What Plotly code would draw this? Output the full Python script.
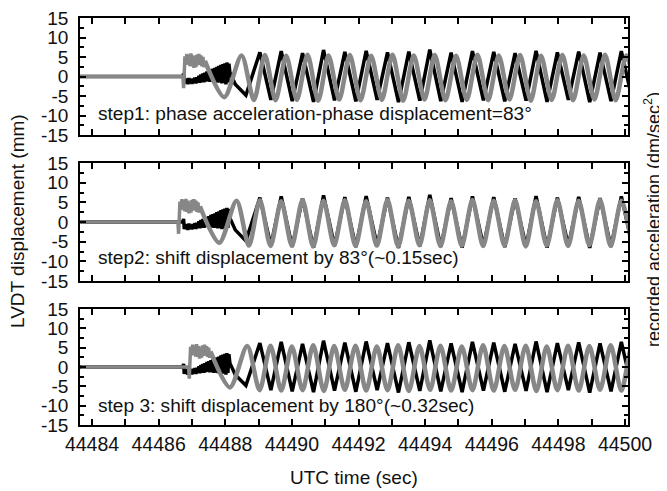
import plotly.graph_objects as go

# ---------------- data ----------------
# recorded acceleration (gray), time base of step 1
acc_t = [44483.50, 44486.73, 44486.75, 44486.77,
         44486.79, 44486.82, 44486.85, 44486.88, 44486.91, 44486.94, 44486.97, 44487.00,
         44487.03, 44487.06, 44487.09, 44487.12, 44487.15, 44487.18, 44487.21, 44487.24,
         44487.27, 44487.30, 44487.33, 44487.36, 44487.39,
         44487.97, 44488.49, 44488.86, 44489.19, 44489.51, 44489.83, 44490.15, 44490.47,
         44490.79, 44491.10, 44491.42, 44491.74, 44492.06, 44492.38, 44492.70, 44493.02,
         44493.34, 44493.66, 44493.98, 44494.29, 44494.61, 44494.93, 44495.25, 44495.57,
         44495.89, 44496.21, 44496.53, 44496.85, 44497.17, 44497.48, 44497.80, 44498.12,
         44498.44, 44498.76, 44499.08, 44499.40, 44499.72, 44500.04, 44500.36]
acc_v = [0.0, 0.0, -3.0, 4.0,
         5.2, 3.0, 5.8, 3.2, 5.5, 2.7, 5.9, 2.6,
         5.4, 2.2, 5.0, 2.4, 5.6, 2.9, 5.8, 3.0,
         5.4, 2.6, 5.0, 2.4, 4.0,
         -5.3, 5.4, -6.0, 5.5, -6.1, 5.3, -6.0, 5.6,
         -6.2, 5.4, -5.9, 5.5, -6.1, 5.3, -6.0, 5.6,
         -6.2, 5.4, -5.9, 5.5, -6.1, 5.3, -6.0, 5.6,
         -6.1, 5.4, -5.9, 5.5, -6.2, 5.3, -6.0, 5.5,
         -6.1, 5.4, -5.9, 5.6, -6.1, 5.4, -6.0]
acc_onset_end = 24   # index where the noisy onset ends and the steady oscillation begins

# LVDT displacement (black)
disp_t = [44483.50, 44486.73, 44486.75, 44486.77,
          44486.79, 44486.82, 44486.85, 44486.88, 44486.91, 44486.94, 44486.97, 44487.00,
          44487.03, 44487.06, 44487.09, 44487.12, 44487.15, 44487.18, 44487.21, 44487.24,
          44487.27, 44487.30, 44487.33, 44487.36,
          44487.39, 44487.42, 44487.45, 44487.48, 44487.51, 44487.54, 44487.57, 44487.60,
          44487.63, 44487.66, 44487.69, 44487.72, 44487.75, 44487.78, 44487.81, 44487.84,
          44487.87, 44487.90, 44487.93, 44487.96, 44487.99, 44488.02, 44488.05, 44488.08,
          44488.11, 44488.14, 44488.30, 44488.62,
          44489.04, 44489.37, 44489.68, 44490.01, 44490.32, 44490.65, 44490.95, 44491.28,
          44491.59, 44491.92, 44492.23, 44492.56, 44492.87, 44493.20, 44493.51, 44493.84,
          44494.14, 44494.47, 44494.78, 44495.11, 44495.42, 44495.75, 44496.06, 44496.39,
          44496.70, 44497.03, 44497.33, 44497.66, 44497.97, 44498.30, 44498.61, 44498.94,
          44499.25, 44499.58, 44499.89, 44500.22]
disp_v = [0.0, 0.0, 0.8, -1.8,
          -0.5, -1.8, -0.6, -2.0, -0.4, -1.7, -0.7, -1.9,
          -0.5, -1.6, -0.3, -1.8, -0.2, -1.5, 0.2, -1.6,
          0.5, -1.4, 0.8, -1.5,
          1.0, -1.3, 1.3, -1.2, 1.5, -1.4, 1.8, -1.3,
          2.0, -1.5, 2.2, -1.4, 2.5, -1.6, 2.7, -1.5,
          3.0, -1.8, 3.2, -1.6, 3.4, -2.0, 3.6, -1.5,
          3.3, 1.0, -2.0, -4.8,
          6.2, -6.0, 6.5, -6.3, 6.0, -6.5, 6.8, -6.1,
          6.3, -6.4, 6.6, -6.0, 6.2, -6.6, 6.4, -6.2,
          6.9, -6.3, 6.1, -6.5, 6.5, -6.1, 6.3, -6.4,
          6.0, -6.2, 6.6, -6.5, 6.2, -6.0, 6.4, -6.6,
          6.1, -6.3, 6.5, -6.0]

# time shift applied to the acceleration record in each step (s)
acc_shift = [0.0, -0.15, 0.17]

step_labels = ["step1: phase acceleration-phase displacement=83°",
               "step2: shift displacement by 83°(~0.15sec)",
               "step 3: shift displacement by 180°(~0.32sec)"]
label_y = [-9.5, -9.0, -9.9]

x_major = [44484, 44486, 44488, 44490, 44492, 44494, 44496, 44498, 44500]
x_labels = ["44484", "44486", "44488", "44490", "44492", "44494", "44496", "44498", "44500"]
x_minor = [44485, 44487, 44489, 44491, 44493, 44495, 44497, 44499]
y_major = [-15, -10, -5, 0, 5, 10, 15]
y_labels = ["-15", "-10", "-5", "0", "5", "10", "15"]
y_minor = [-12.5, -7.5, -2.5, 2.5, 7.5, 12.5]

# ---------------- figure ----------------
W, H = 667, 491
OFF = 8            # page body margin of the html page (px)
FONT = "Liberation Sans, Arial, sans-serif"
px_l, px_r = 80, 628
panels_px = [(18, 135), (163, 281), (309, 425)]


def fx(px):
    return (px - OFF) / W


def fy(py):
    return 1 - (py - OFF) / H


fig = go.Figure()
for i in range(3):
    xa = "x" if i == 0 else f"x{i+1}"
    ya = "y" if i == 0 else f"y{i+1}"
    sh = acc_shift[i]
    fig.add_trace(go.Scatter(x=disp_t, y=disp_v, mode="lines", xaxis=xa, yaxis=ya,
                             line=dict(color="#000000", width=3.5), showlegend=False,
                             hoverinfo="skip"))
    k = acc_onset_end
    fig.add_trace(go.Scatter(x=[t + sh for t in acc_t[:k + 1]], y=acc_v[:k + 1], mode="lines",
                             xaxis=xa, yaxis=ya, line=dict(color="#878787", width=3.5),
                             showlegend=False, hoverinfo="skip"))
    fig.add_trace(go.Scatter(x=[t + sh for t in acc_t[k:]], y=acc_v[k:], mode="lines",
                             xaxis=xa, yaxis=ya,
                             line=dict(color="#878787", width=4.5, shape="spline", smoothing=0.8),
                             showlegend=False, hoverinfo="skip"))

layout = dict(template="none", width=W, height=H,
              margin=dict(l=0, r=0, t=0, b=0, pad=0, autoexpand=False),
              paper_bgcolor="white", plot_bgcolor="white",
              font=dict(family=FONT, size=19, color="#111111"))

for i, (top, bot) in enumerate(panels_px):
    suf = "" if i == 0 else str(i + 1)
    layout["xaxis" + suf] = dict(
        domain=[fx(px_l), fx(px_r)], range=[44483.64, 44500.09], anchor="y" + suf,
        tickmode="array", tickvals=x_major, ticktext=x_labels, showticklabels=(i == 2),
        ticks="inside", ticklen=6, tickwidth=1.5, tickcolor="black",
        minor=dict(ticks="inside", ticklen=6, tickwidth=1.5, tickcolor="black",
                   tickvals=x_minor, showgrid=False),
        showline=True, linecolor="black", linewidth=1.5, mirror="ticks",
        showgrid=False, zeroline=False, ticklabelstandoff=1, automargin=False,
        ticklabeloverflow="allow", tickfont=dict(size=19.5))
    layout["yaxis" + suf] = dict(
        domain=[fy(bot), fy(top)], range=[-15, 15], anchor="x" + suf,
        tickmode="array", tickvals=y_major, ticktext=y_labels,
        ticks="inside", ticklen=6, tickwidth=1.5, tickcolor="black",
        minor=dict(ticks="inside", ticklen=4, tickwidth=1.5, tickcolor="black",
                   tickvals=y_minor, showgrid=False),
        showline=True, linecolor="black", linewidth=1.5, mirror="ticks",
        showgrid=False, zeroline=False, ticklabelstandoff=6, automargin=False,
        ticklabeloverflow="allow", tickfont=dict(size=19))

fig.update_layout(**layout)

for i in range(3):
    xa = "x" if i == 0 else f"x{i+1}"
    ya = "y" if i == 0 else f"y{i+1}"
    fig.add_annotation(x=44484.12, y=label_y[i], xref=xa, yref=ya, text=step_labels[i],
                       showarrow=False, xanchor="left", yanchor="middle",
                       font=dict(size=19.1, family=FONT, color="#111111"))

fig.add_annotation(x=fx(354), y=fy(477), xref="paper", yref="paper",
                   text="UTC time (sec)", showarrow=False, xanchor="center", yanchor="middle",
                   font=dict(size=19))
fig.add_annotation(x=fx(17), y=fy(221), xref="paper", yref="paper",
                   text="LVDT displacement (mm)", showarrow=False, textangle=-90,
                   xanchor="center", yanchor="middle", font=dict(size=19))
fig.add_annotation(x=fx(652), y=fy(220), xref="paper", yref="paper",
                   text="recorded acceleration (dm/sec<sup>2</sup>)", showarrow=False,
                   textangle=-90, xanchor="center", yanchor="middle", font=dict(size=18))

fig.write_html("out.html")
